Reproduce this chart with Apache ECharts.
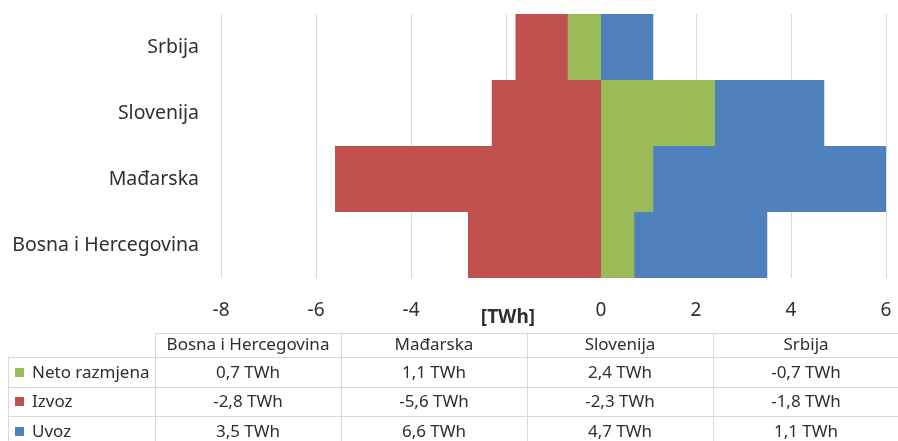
<!DOCTYPE html>
<html>
<head>
<meta charset="utf-8">
<script src="https://cdn.jsdelivr.net/npm/echarts@6/dist/echarts.min.js"></script>
<style>
html,body{margin:0;padding:0;background:#fff;}
#main{width:898px;height:441px;}
</style>
</head>
<body>
<div id="main"></div>
<script>
// ---- data ----
var categories = ['Bosna i Hercegovina', 'Mađarska', 'Slovenija', 'Srbija'];
var seriesNames = ['Neto razmjena', 'Izvoz', 'Uvoz'];
var neto = [0.7, 1.1, 2.4, -0.7];
var izvoz = [-2.8, -5.6, -2.3, -1.8];
var uvoz = [3.5, 6.6, 4.7, 1.1];
var xTicks = [-8, -6, -4, -2, 0, 2, 4, 6];
var unitLabel = '[TWh]';
var unit = 'TWh';

// ---- style ----
var colors = { 'Neto razmjena': '#9BBB59', 'Izvoz': '#C0504D', 'Uvoz': '#4F81BD' };
var FONT = 'Noto Sans';
var TXT = '#2f2f2f';
var LINE = '#D9D9D9';

var chart = echarts.init(document.getElementById('main'), null, { renderer: 'canvas' });

function fmt(v) { return v.toFixed(1).replace('.', ',') + ' ' + unit; }

// ---- table built from the data arrays ----
var graphic = [];
var tblLeft = 8, col0 = 155, colW = 186, right = 898;
var headTop = 333, headH = 24, rowH = 29.5;
var rows = [
  { name: seriesNames[0], vals: neto },
  { name: seriesNames[1], vals: izvoz },
  { name: seriesNames[2], vals: uvoz }
];
var bottom = 441;
graphic.push({ type: 'line', shape: { x1: col0, y1: headTop + 0.5, x2: right, y2: headTop + 0.5 }, style: { stroke: LINE, lineWidth: 1 }, silent: true });
for (var r = 0; r < rows.length; r++) {
  var y = Math.round(headTop + headH + r * rowH) + 0.5;
  graphic.push({ type: 'line', shape: { x1: tblLeft, y1: y, x2: right, y2: y }, style: { stroke: LINE, lineWidth: 1 }, silent: true });
}
graphic.push({ type: 'line', shape: { x1: tblLeft + 0.5, y1: headTop + headH, x2: tblLeft + 0.5, y2: bottom }, style: { stroke: LINE, lineWidth: 1 }, silent: true });
for (var c = 0; c < categories.length; c++) {
  var x = col0 + c * colW + 0.5;
  graphic.push({ type: 'line', shape: { x1: x, y1: headTop, x2: x, y2: bottom }, style: { stroke: LINE, lineWidth: 1 }, silent: true });
}
for (var c2 = 0; c2 < categories.length; c2++) {
  graphic.push({ type: 'text', x: col0 + c2 * colW + colW / 2, y: headTop + headH / 2 + 0.5,
    style: { text: categories[c2], fill: TXT, font: '17px "' + FONT + '"', align: 'center', verticalAlign: 'middle' }, silent: true });
}
for (var r2 = 0; r2 < rows.length; r2++) {
  var cy = headTop + headH + r2 * rowH + rowH / 2 + 1;
  graphic.push({ type: 'rect', shape: { x: 15, y: Math.round(cy) - 5, width: 9, height: 9 }, style: { fill: colors[rows[r2].name] }, silent: true });
  graphic.push({ type: 'text', x: 32, y: cy,
    style: { text: rows[r2].name, fill: TXT, font: '17px "' + FONT + '"', align: 'left', verticalAlign: 'middle' }, silent: true });
  for (var c3 = 0; c3 < categories.length; c3++) {
    graphic.push({ type: 'text', x: col0 + c3 * colW + colW / 2, y: cy,
      style: { text: fmt(rows[r2].vals[c3]), fill: TXT, font: '17px "' + FONT + '"', align: 'center', verticalAlign: 'middle' }, silent: true });
  }
}
graphic.push({ type: 'text', x: 508, y: 318,
  style: { text: unitLabel, fill: TXT, font: 'bold 19px "' + FONT + '"', align: 'center', verticalAlign: 'middle' }, silent: true });

function barSeries(name, data) {
  return {
    name: name, type: 'bar', data: data,
    barGap: '-100%', barCategoryGap: 0,
    itemStyle: { color: colors[name] },
    clip: true, silent: true, animation: false
  };
}

chart.setOption({
  animation: false,
  backgroundColor: '#ffffff',
  textStyle: { fontFamily: FONT },
  grid: { left: 221, right: 12, top: 14, bottom: 163, containLabel: false },
  xAxis: {
    type: 'value', min: xTicks[0], max: xTicks[xTicks.length - 1], interval: 2,
    axisLine: { show: false }, axisTick: { show: false },
    splitLine: { show: true, lineStyle: { color: LINE, width: 1 } },
    axisLabel: {
      color: TXT, fontSize: 19, fontFamily: FONT, margin: 23,
      formatter: function (v) { return v === -2 ? '' : String(v); }
    }
  },
  yAxis: {
    type: 'category', data: categories,
    axisLine: { show: false }, axisTick: { show: false },
    axisLabel: { color: TXT, fontSize: 19.5, fontFamily: FONT, margin: 22 }
  },
  series: [
    barSeries(seriesNames[2], uvoz),
    barSeries(seriesNames[1], izvoz),
    barSeries(seriesNames[0], neto)
  ],
  graphic: graphic
});
</script>
</body>
</html>
